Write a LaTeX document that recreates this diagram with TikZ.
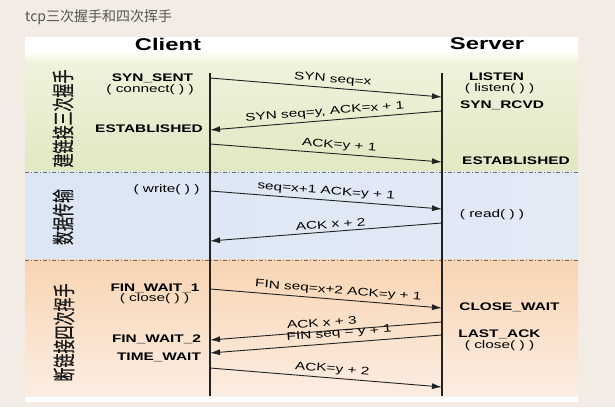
\documentclass[tikz,border=0pt]{standalone}
\usepackage{fontspec}
\setmainfont{Liberation Sans}
\newfontfamily\cjk{Noto Sans CJK SC}
\newfontfamily\cjkph[FakeBold=0.6]{Noto Sans CJK SC}
\usepackage{graphicx}
\usetikzlibrary{arrows.meta}
\definecolor{pagebg}{HTML}{F3ECE5}
\definecolor{titlegray}{HTML}{555555}
\definecolor{greenA}{HTML}{EEF3DC}
\definecolor{greenB}{HTML}{E1E8C2}
\definecolor{blueL}{HTML}{DCE6F4}
\definecolor{blueM}{HTML}{C6D8F0}
\definecolor{blueR}{HTML}{E2EAF6}
\definecolor{orangeA}{HTML}{F8D5B3}
\definecolor{orangeB}{HTML}{FCEDE2}
\definecolor{lifecol}{HTML}{222222}
\definecolor{sepcol}{HTML}{6A6A6A}
\newcommand\hs[1]{\scalebox{1.4}[1]{#1}}
\newcommand\vsx[1]{\scalebox{1}[1.6]{#1}}
\tikzset{
  statelbl/.style={font=\fontsize{11}{13}\selectfont\bfseries, inner sep=0pt, text=black},
  calllbl/.style={font=\fontsize{11}{13}\selectfont, inner sep=0pt, text=black},
  msg/.style={draw=lifecol, line width=0.9pt, -{Latex[length=10pt,width=6pt]}},
  msglbl/.style={font=\fontsize{11}{13}\selectfont, inner sep=0pt, sloped, above=3pt, text=black},
  lifeline/.style={draw=lifecol, line width=1.3pt},
  sepline/.style={draw=sepcol, line width=0.8pt, dash pattern=on 4pt off 2pt on 1pt off 2pt},
  phaselbl/.style={font=\cjkph\fontsize{14}{14}\selectfont, inner sep=0pt, rotate=90, text=black!90},
  headlbl/.style={font=\fontsize{17}{20}\selectfont\bfseries, inner sep=0pt, text=black}
}
\begin{document}
\begin{tikzpicture}[x=1pt,y=1pt]
\useasboundingbox (0,0) rectangle (615,407);
% page background
\fill[pagebg] (0,0) rectangle (615,407);
% diagram box
\fill[white] (25,5) rectangle (578,370);
\shade[top color=white, bottom color=greenA] (25,356) rectangle (578,344);
\shade[top color=greenA, bottom color=greenB] (25,344) rectangle (578,235);
\shade[left color=blueL, middle color=blueM, right color=blueR] (25,235) rectangle (578,147);
\shade[top color=orangeA, bottom color=orangeB] (25,147) rectangle (578,11);
% title
\node[anchor=west, font=\cjk\fontsize{14}{16}\selectfont, text=titlegray, inner sep=0pt] (title) at (25,390) {tcp三次握手和四次挥手};
% headers
\node[headlbl] (client) at (168,362.5) {\hs{Client}};
\node[headlbl] (server) at (487,363) {\hs{Server}};
% separators
\coordinate (sepAl) at (25,235); \coordinate (sepAr) at (578,235);
\coordinate (sepBl) at (25,147); \coordinate (sepBr) at (578,147);
\draw[sepline] (sepAl) -- (sepAr);
\draw[sepline] (sepBl) -- (sepBr);
% lifelines
\coordinate (ctop) at (210,334); \coordinate (cbot) at (210,11);
\coordinate (stop) at (442,334); \coordinate (sbot) at (442,11);
\draw[lifeline] (ctop) -- (cbot);
\draw[lifeline] (stop) -- (sbot);
% phase labels
\node[phaselbl] (ph1) at (63,288.5) {\vsx{建链接三次握手}};
\node[phaselbl] (ph2) at (63,190) {\vsx{数据传输}};
\node[phaselbl] (ph3) at (64,74.5) {\vsx{断链接四次挥手}};
% client states
\node[statelbl] (synsent) at (152.5,329) {\hs{SYN\_SENT}};
\node[calllbl] (connect) at (150,317.5) {\hs{( connect( ) )}};
\node[statelbl] (cest) at (149,278.3) {\hs{ESTABLISHED}};
\node[calllbl] (write) at (166.5,217) {\hs{( write( ) )}};
\node[statelbl] (fw1) at (155,119) {\hs{FIN\_WAIT\_1}};
\node[calllbl] (cclose) at (154.5,108) {\hs{( close( ) )}};
\node[statelbl] (fw2) at (156.5,68) {\hs{FIN\_WAIT\_2}};
\node[statelbl] (tw) at (159,50) {\hs{TIME\_WAIT}};
% server states
\node[statelbl] (listen) at (496.5,330) {\hs{LISTEN}};
\node[calllbl] (listenc) at (499.5,318) {\hs{( listen( ) )}};
\node[statelbl] (synrcvd) at (502,302) {\hs{SYN\_RCVD}};
\node[statelbl] (sest) at (516,246) {\hs{ESTABLISHED}};
\node[calllbl] (read) at (492,192) {\hs{( read( ) )}};
\node[statelbl] (closewait) at (509.5,100) {\hs{CLOSE\_WAIT}};
\node[statelbl] (lastack) at (499.5,73) {\hs{LAST\_ACK}};
\node[calllbl] (sclose) at (499.5,61) {\hs{( close( ) )}};
% message end points
\coordinate (c1) at (210,329); \coordinate (s1) at (442,310);
\coordinate (s2) at (442,296); \coordinate (c2) at (210,277);
\coordinate (c3) at (210,263); \coordinate (s3) at (442,245);
\coordinate (c4) at (210,216); \coordinate (s4) at (442,198);
\coordinate (s5) at (442,184); \coordinate (c5) at (210,166);
\coordinate (c6) at (210,118); \coordinate (s6) at (442,99);
\coordinate (s7) at (442,85);  \coordinate (c7) at (210,67);
\coordinate (s8) at (442,72);  \coordinate (c8) at (210,54);
\coordinate (c9) at (210,39);  \coordinate (s9) at (442,20);
% messages
\draw[msg] (c1) -- node[msglbl, pos=0.526] (m1) {\hs{SYN seq=x}} (s1);
\draw[msg] (s2) -- node[msglbl, pos=0.502] (m2) {\hs{SYN seq=y, ACK=x + 1}} (c2);
\draw[msg] (c3) -- node[msglbl, pos=0.554] (m3) {\hs{ACK=y + 1}} (s3);
\draw[msg] (c4) -- node[msglbl, pos=0.498] (m4) {\hs{seq=x+1 ACK=y + 1}} (s4);
\draw[msg] (s5) -- node[msglbl, pos=0.478] (m5) {\hs{ACK x + 2}} (c5);
\draw[msg] (c6) -- node[msglbl, pos=0.55] (m6) {\hs{FIN seq=x+2 ACK=y + 1}} (s6);
\draw[msg] (s7) -- node[msglbl, pos=0.515, above=1.5pt] (m7) {\hs{ACK x + 3}} (c7);
\draw[msg] (s8) -- node[msglbl, pos=0.44, above=0.8pt] (m8) {\hs{FIN seq = y + 1}} (c8);
\draw[msg] (c9) -- node[msglbl, pos=0.524] (m9) {\hs{ACK=y + 2}} (s9);
\end{tikzpicture}
\end{document}
